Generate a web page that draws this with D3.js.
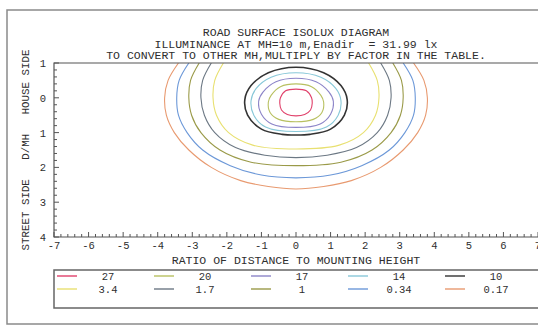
<!DOCTYPE html>
<html>
<head>
<meta charset="utf-8">
<script src="https://cdn.jsdelivr.net/npm/d3@7"></script>
<style>
  body { margin: 0; background: #fff; }
  text { font-family: "Liberation Mono", "DejaVu Sans Mono", monospace; fill: #2e2e2e; white-space: pre; }
</style>
</head>
<body>
<script>
// contour levels and colours (legend order)
var levels = ["27", "20", "17", "14", "10", "3.4", "1.7", "1", "0.34", "0.17"];
var colors = ["#e0406a", "#b8c060", "#8c84c8", "#88c8d8", "#333333",
              "#e8e070", "#6c7884", "#9a9a48", "#6c98d8", "#e89a70"];

var xTicks = [-7, -6, -5, -4, -3, -2, -1, 0, 1, 2, 3, 4, 5, 6, 7];
var yTicks = [-1, 0, 1, 2, 3, 4];

var titleLines = [
  "ROAD SURFACE ISOLUX DIAGRAM",
  "ILLUMINANCE AT MH=10 m,Enadir  = 31.99 lx",
  "TO CONVERT TO OTHER MH,MULTIPLY BY FACTOR IN THE TABLE."
];

// isolux lines, [x, y] in D/MH units (y > 0 = street side)
var c27 = [[0,-0.25],[-0.3,-0.2],[-0.45,0.0],[-0.47,0.15],[-0.42,0.35],[-0.25,0.48],[0,0.52],
           [0.25,0.48],[0.42,0.35],[0.47,0.15],[0.45,0.0],[0.3,-0.2]];
var c20 = [[0,-0.4],[-0.45,-0.32],[-0.72,-0.07],[-0.8,0.12],[-0.75,0.42],[-0.5,0.62],[0,0.69],
           [0.5,0.62],[0.75,0.42],[0.8,0.12],[0.72,-0.07],[0.45,-0.32]];
var c17 = [[0,-0.56],[-0.58,-0.46],[-0.95,-0.17],[-1.08,0.1],[-1.0,0.47],[-0.7,0.75],[0,0.85],
           [0.7,0.75],[1.0,0.47],[1.08,0.1],[0.95,-0.17],[0.58,-0.46]];
var c14 = [[0,-0.72],[-0.72,-0.59],[-1.15,-0.27],[-1.3,0.08],[-1.22,0.5],[-0.88,0.84],[0,0.97],
           [0.88,0.84],[1.22,0.5],[1.3,0.08],[1.15,-0.27],[0.72,-0.59]];
var c10 = [[0,-0.88],[-0.8,-0.72],[-1.3,-0.35],[-1.48,0.05],[-1.4,0.5],[-1.0,0.9],[-0.4,1.05],[0,1.07],
           [0.4,1.05],[1.0,0.9],[1.4,0.5],[1.48,0.05],[1.3,-0.35],[0.8,-0.72]];
var c3_4 = [[-2.1,-1],[-2.35,-0.5],[-2.4,0],[-2.3,0.5],[-1.95,1],[-1.25,1.36],[0,1.47],
            [1.25,1.36],[1.95,1],[2.3,0.5],[2.4,0],[2.35,-0.5],[2.1,-1]];
var c1_7 = [[-2.45,-1],[-2.7,-0.5],[-2.75,0],[-2.65,0.5],[-2.35,1],[-1.75,1.43],[-0.9,1.65],[0,1.72],
            [0.9,1.65],[1.75,1.43],[2.35,1],[2.65,0.5],[2.75,0],[2.7,-0.5],[2.45,-1]];
var c1 = [[-2.8,-1],[-3.05,-0.5],[-3.1,0],[-3.02,0.5],[-2.75,1],[-2.2,1.5],[-1.3,1.85],[0,1.95],
          [1.3,1.85],[2.2,1.5],[2.75,1],[3.02,0.5],[3.1,0],[3.05,-0.5],[2.8,-1]];
var c0_34 = [[-3.1,-1],[-3.38,-0.5],[-3.45,0],[-3.4,0.5],[-3.15,1],[-2.7,1.5],[-1.9,1.95],[-1,2.22],[0,2.3],
             [1,2.22],[1.9,1.95],[2.7,1.5],[3.15,1],[3.4,0.5],[3.45,0],[3.38,-0.5],[3.1,-1]];
var c0_17 = [[-3.4,-1],[-3.7,-0.5],[-3.8,0],[-3.75,0.5],[-3.52,1],[-3.1,1.5],[-2.45,2],[-1.6,2.38],[-0.8,2.55],[0,2.62],
             [0.8,2.55],[1.6,2.38],[2.45,2],[3.1,1.5],[3.52,1],[3.75,0.5],[3.8,0],[3.7,-0.5],[3.4,-1]];

var contourLines = [c27, c20, c17, c14, c10, c3_4, c1_7, c1, c0_34, c0_17];
var closedLines = [true, true, true, true, true, false, false, false, false, false];

var width = 538, height = 327;
var plot = {left: 54, right: 538, top: 63, bottom: 237};

var svg = d3.select("body").append("svg")
    .attr("width", width)
    .attr("height", height);

// outer frame
svg.append("rect")
    .attr("x", 7).attr("y", 10)
    .attr("width", 540).attr("height", 314)
    .attr("fill", "none")
    .attr("stroke", "#8a8a8a")
    .attr("stroke-width", 1.5);

var x = d3.scaleLinear().domain([-7, 7]).range([plot.left, plot.right]);
var y = d3.scaleLinear().domain([-1, 4]).range([plot.top, plot.bottom]);

// title
svg.append("g").selectAll("text")
    .data(titleLines)
    .enter().append("text")
    .attr("x", x(0))
    .attr("y", function(d, i) { return 36 + i * 11.5; })
    .attr("text-anchor", "middle")
    .style("font-size", "11.5px")
    .text(function(d) { return d; });

// contours
svg.append("clipPath").attr("id", "clip")
  .append("rect")
    .attr("x", plot.left).attr("y", plot.top)
    .attr("width", plot.right - plot.left).attr("height", plot.bottom - plot.top);

var lineOpen = d3.line()
    .x(function(d) { return x(d[0]); })
    .y(function(d) { return y(d[1]); })
    .curve(d3.curveCatmullRom);
var lineClosed = d3.line()
    .x(function(d) { return x(d[0]); })
    .y(function(d) { return y(d[1]); })
    .curve(d3.curveCatmullRomClosed);

svg.append("g").attr("clip-path", "url(#clip)")
  .selectAll("path")
    .data(contourLines)
    .enter().append("path")
    .attr("d", function(d, i) { return closedLines[i] ? lineClosed(d) : lineOpen(d); })
    .attr("fill", "none")
    .attr("stroke", function(d, i) { return colors[i]; })
    .attr("stroke-width", function(d, i) { return i == 4 ? 1.6 : 1.1; });

// plot frame
svg.append("path")
    .attr("d", "M" + plot.right + "," + plot.top + "H" + plot.left + "V" + plot.bottom + "H" + plot.right)
    .attr("fill", "none")
    .attr("stroke", "#555")
    .attr("stroke-width", 1.2);

// minor / major ticks
var xMinor = d3.range(-7, 7.001, 0.2);
var yMinor = d3.range(-1, 4.001, 0.2);

svg.append("g").selectAll("line")
    .data(xMinor)
    .enter().append("line")
    .attr("x1", function(d) { return x(d); })
    .attr("x2", function(d) { return x(d); })
    .attr("y1", plot.bottom)
    .attr("y2", function(d) { return plot.bottom - (Math.abs(d - Math.round(d)) < 1e-6 ? 5 : 3); })
    .attr("stroke", "#555");

svg.append("g").selectAll("line")
    .data(yMinor)
    .enter().append("line")
    .attr("y1", function(d) { return y(d); })
    .attr("y2", function(d) { return y(d); })
    .attr("x1", plot.left)
    .attr("x2", function(d) { return plot.left + (Math.abs(d - Math.round(d)) < 1e-6 ? 5 : 3); })
    .attr("stroke", "#555");

// tick labels
svg.append("g").selectAll("text")
    .data(xTicks)
    .enter().append("text")
    .attr("x", function(d) { return x(d); })
    .attr("y", plot.bottom + 12)
    .attr("text-anchor", "middle")
    .style("font-size", "10.5px")
    .text(function(d) { return d; });

svg.append("g").selectAll("text")
    .data(yTicks)
    .enter().append("text")
    .attr("x", 43)
    .attr("y", function(d) { return y(d) + 4; })
    .attr("text-anchor", "middle")
    .style("font-size", "10.5px")
    .text(function(d) { return Math.abs(d); });

// axis titles
svg.append("text")
    .attr("x", x(0))
    .attr("y", 264)
    .attr("text-anchor", "middle")
    .style("font-size", "11.5px")
    .text("RATIO OF DISTANCE TO MOUNTING HEIGHT");

svg.append("text")
    .attr("transform", "translate(29," + 150 + ") rotate(-90)")
    .attr("text-anchor", "middle")
    .style("font-size", "10.8px")
    .text("STREET SIDE   D/MH   HOUSE SIDE");

// legend
svg.append("path")
    .attr("d", "M" + plot.right + ",270H" + plot.left + "V308H" + plot.right)
    .attr("fill", "none")
    .attr("stroke", "#666")
    .attr("stroke-width", 1.5);

var legend = svg.append("g").selectAll("g")
    .data(levels)
    .enter().append("g")
    .attr("transform", function(d, i) {
      return "translate(" + (57 + (i % 5) * 97) + "," + (276 + Math.floor(i / 5) * 13) + ")";
    });

legend.append("line")
    .attr("x1", 0).attr("x2", 20)
    .attr("stroke", function(d, i) { return colors[i]; })
    .attr("stroke-width", 1.4);

legend.append("text")
    .attr("x", 51)
    .attr("y", 4)
    .attr("text-anchor", "middle")
    .style("font-size", "10.5px")
    .text(function(d) { return d; });
</script>
</body>
</html>
